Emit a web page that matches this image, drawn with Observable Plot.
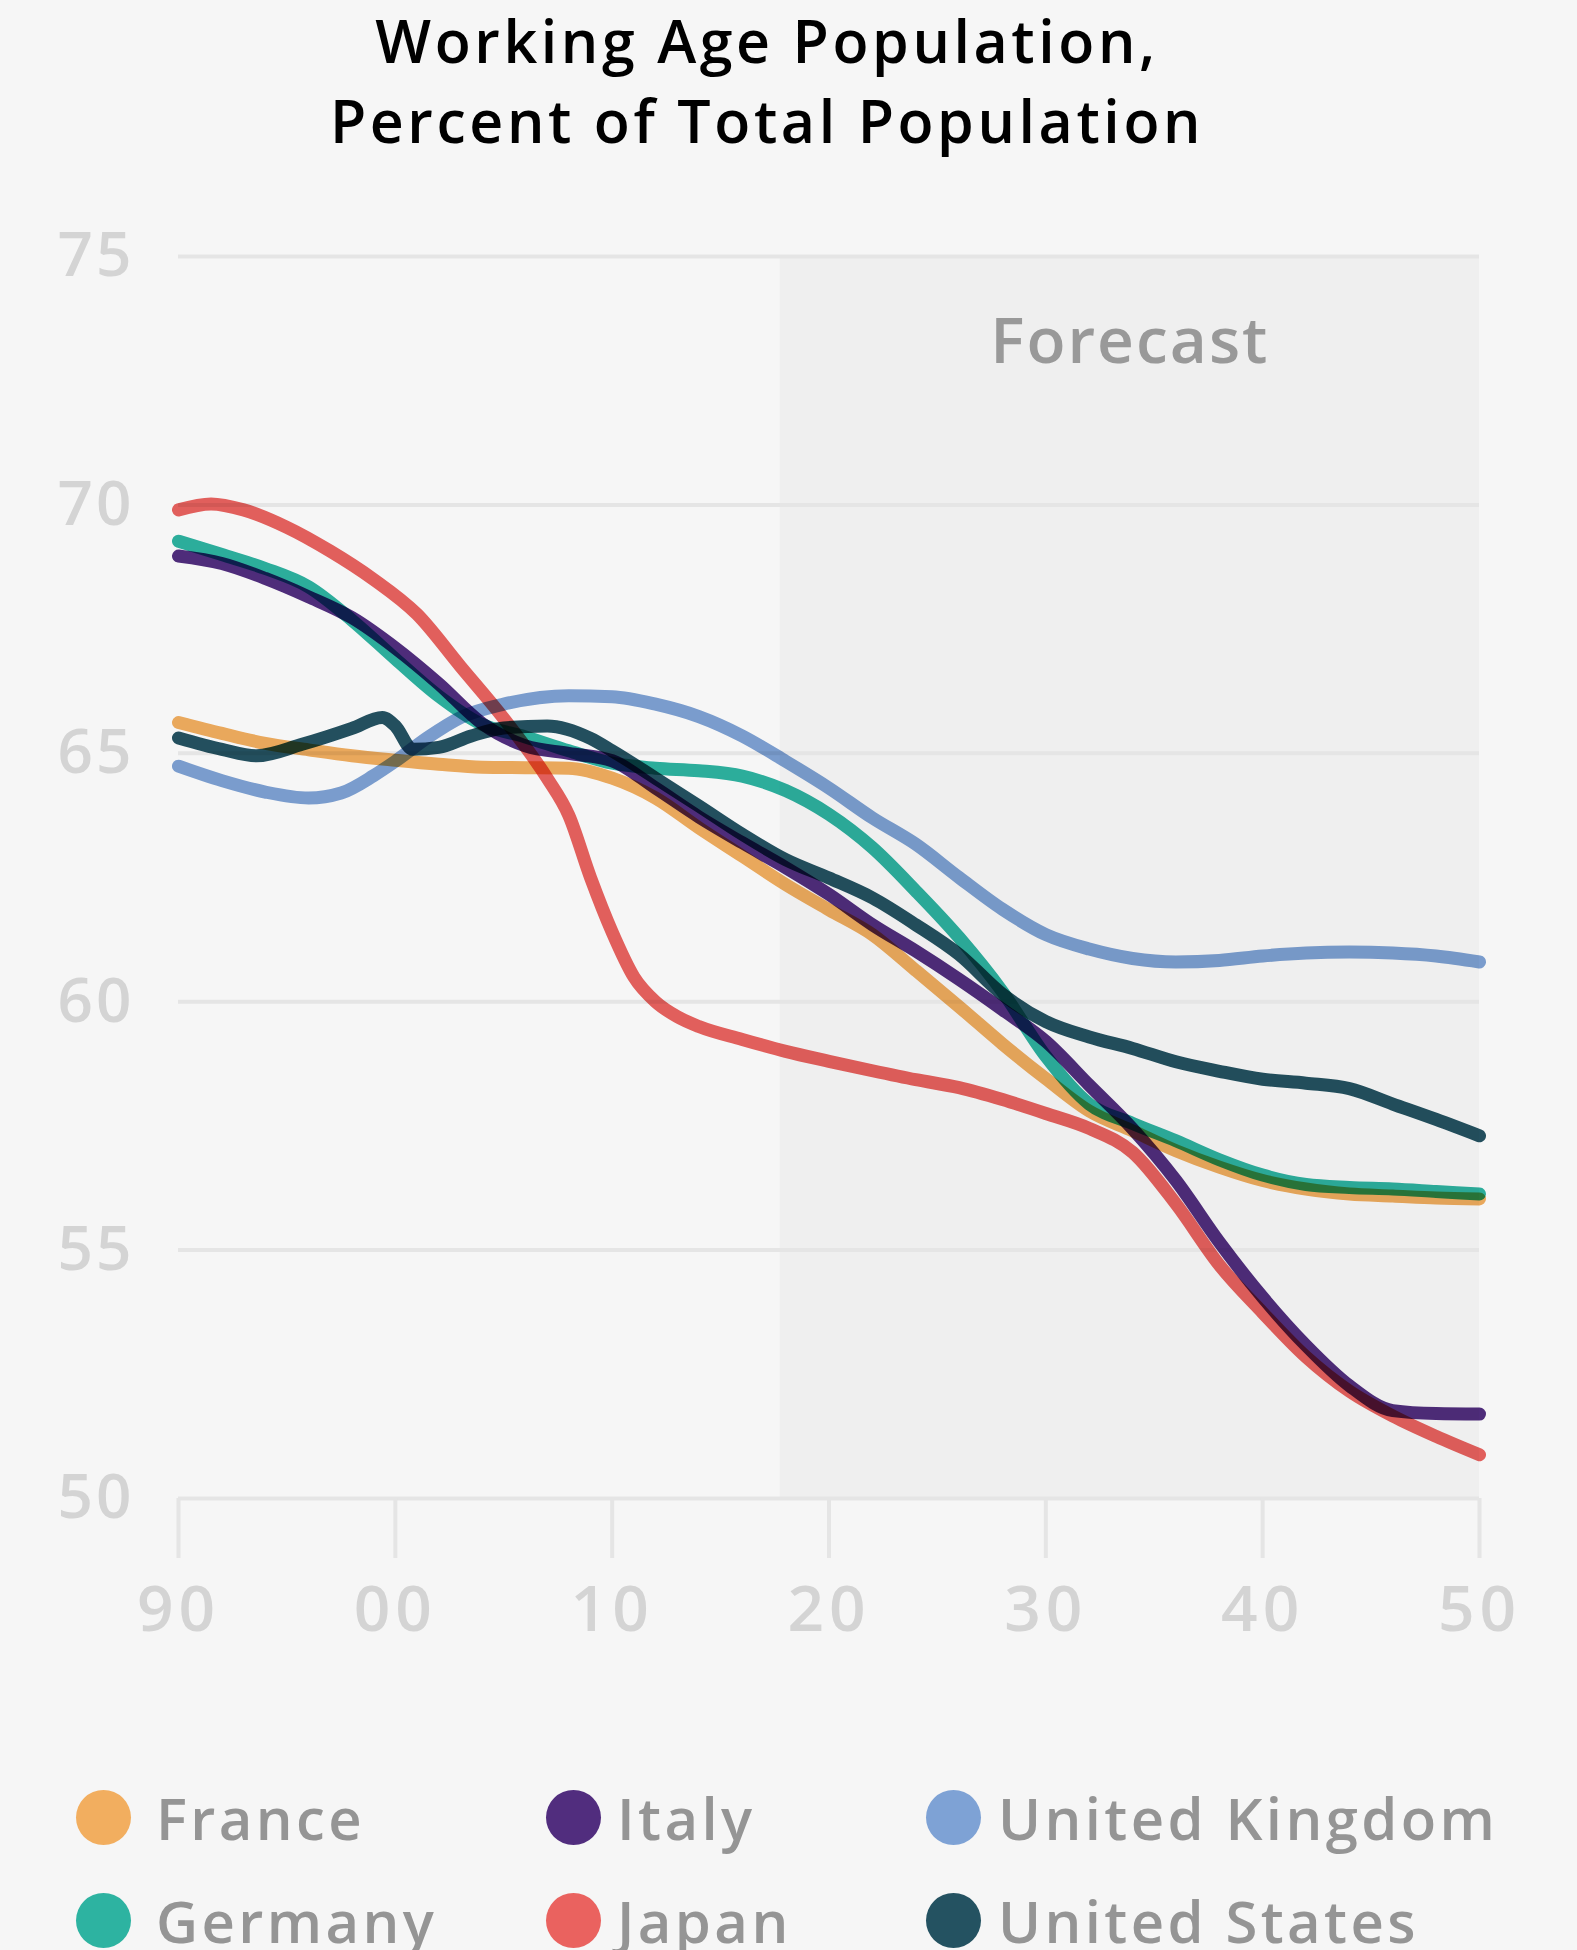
<!DOCTYPE html>
<html>
<head>
<meta charset="utf-8">
<script src="https://cdn.jsdelivr.net/npm/d3@7"></script>
<script src="https://cdn.jsdelivr.net/npm/@observablehq/plot@0.6"></script>
<style>
  html, body { margin: 0; padding: 0; background: #f6f6f6; }
  body { width: 1577px; height: 1950px; position: relative; overflow: hidden; font-family: "Open Sans", sans-serif; }
  #title { position: absolute; left: 0; top: 0; width: 1534px; text-align: center; font-size: 59px; line-height: 80px; font-weight: 600; color: #000; letter-spacing: 3.6px; }
  #chart { position: absolute; left: 0; top: 160px; }
  .lg-dot { position: absolute; width: 55px; height: 55px; border-radius: 50%; }
  .lg-text { position: absolute; font-size: 58px; line-height: 58px; color: #959595; font-weight: 600; letter-spacing: 3.4px; white-space: nowrap; }
  #chart g[aria-label="x-axis tick label"] text { letter-spacing: 5px; }
  #chart g[aria-label="y-axis tick label"] text { letter-spacing: 3px; }
  #chart g[aria-label="text"] text { letter-spacing: 2px; }
</style>
</head>
<body>
<div id="title">Working Age Population,<br>Percent of Total Population</div>
<div id="chart"></div>
<div id="legend"></div>
<script>
const countries = ["France", "Germany", "Italy", "Japan", "United Kingdom", "United States"];
const colors = ["#f2ae5f", "#2db3a1", "#512d7e", "#ea625f", "#7ea2d5", "#245261"];

const gridYears = [1990,1992,1994,1996,1998,2000,2002,2004,2006,2008,2010,2012,2014,2016,2018,2020,2022,2024,2026,2028,2030,2032,2034,2036,2038,2040,2042,2044,2046,2048,2050];
const franceValues = [65.62,65.4,65.2,65.07,64.95,64.86,64.78,64.72,64.71,64.7,64.5,64.1,63.5,62.93,62.36,61.85,61.35,60.63,59.9,59.15,58.45,57.8,57.4,57.0,56.67,56.4,56.23,56.13,56.09,56.05,56.03];
const germanyValues = [69.27,69.0,68.72,68.35,67.68,66.9,66.15,65.58,65.33,65.05,64.8,64.7,64.65,64.54,64.25,63.77,63.1,62.23,61.29,60.2,58.9,57.94,57.55,57.2,56.82,56.51,56.32,56.26,56.23,56.18,56.13];
const italyValues = [68.97,68.82,68.52,68.15,67.73,67.12,66.4,65.6,65.15,65.0,64.85,64.3,63.72,63.2,62.7,62.16,61.55,61.02,60.45,59.84,59.2,58.32,57.44,56.4,55.16,54.05,53.08,52.27,51.77,51.71,51.7];

const japanYears = [1990,1991.5,1993,1995,1997,1999,2001,2003,2005,2007,2008,2009,2010,2011,2012,2013,2014,2016,2018,2020,2022,2024,2026,2028,2030,2032,2034,2036,2038,2040,2042,2044,2046,2048,2050];
const japanValues = [69.9,70.02,69.9,69.55,69.07,68.5,67.8,66.75,65.7,64.5,63.75,62.5,61.4,60.5,60.0,59.7,59.5,59.24,59.0,58.8,58.61,58.43,58.27,58.03,57.75,57.45,56.97,55.93,54.7,53.74,52.85,52.16,51.66,51.25,50.88];

const ukYears = [1990,1992,1994,1996,1997.5,1999,2000,2001.5,2003,2005,2008,2010,2012,2014,2016,2018,2020,2022,2024,2026,2028,2030,2032,2034,2036,2038,2040,2042,2044,2046,2048,2050];
const ukValues = [64.74,64.45,64.22,64.1,64.2,64.55,64.84,65.32,65.72,65.99,66.16,66.14,65.99,65.74,65.35,64.84,64.3,63.7,63.17,62.5,61.86,61.35,61.06,60.87,60.8,60.83,60.92,60.98,61.0,60.98,60.92,60.8];

const usYears = [1990,1992,1993.6,1995.7,1998,1999.4,2000,2000.8,2002,2003.5,2005,2007,2009,2010,2012,2014,2016,2018,2020,2022,2024,2026,2028,2030,2032,2034,2036,2038,2040,2042,2044,2046,2048,2050];
const usValues = [65.31,65.08,64.95,65.18,65.5,65.72,65.55,65.08,65.12,65.35,65.51,65.55,65.3,65.05,64.5,63.94,63.37,62.86,62.49,62.09,61.55,60.95,60.15,59.6,59.29,59.06,58.79,58.6,58.44,58.36,58.25,57.94,57.63,57.3];

const xTicks = [1990, 2000, 2010, 2020, 2030, 2040, 2050];
const xTickLabels = ["90", "00", "10", "20", "30", "40", "50"];
const yTicks = [50, 55, 60, 65, 70, 75];
const forecast = [{label: "Forecast", start: 2017.75, end: 2050}];

const seriesList = [
  ["France", gridYears, franceValues],
  ["Germany", gridYears, germanyValues],
  ["Italy", gridYears, italyValues],
  ["Japan", japanYears, japanValues],
  ["United Kingdom", ukYears, ukValues],
  ["United States", usYears, usValues]
];
const rows = seriesList.flatMap(([country, ys, vs]) => ys.map((year, i) => ({country, year, value: vs[i]})));

const chart = Plot.plot({
  width: 1577,
  height: 1488,
  marginLeft: 178,
  marginRight: 98,
  marginTop: 96,
  marginBottom: 150,
  style: {background: "transparent", fontFamily: "'Open Sans', sans-serif", overflow: "visible"},
  x: {domain: [1990, 2050]},
  y: {domain: [50, 75]},
  color: {domain: countries, range: colors},
  marks: [
    Plot.rect(forecast, {x1: "start", x2: "end", y1: 50, y2: 75, fill: "#efefef"}),
    Plot.ruleY(yTicks, {stroke: "#e5e5e5", strokeWidth: 4}),
    Plot.axisY({ticks: yTicks, tickSize: 0, tickPadding: 0, textAnchor: "start", dx: -121, fontSize: 62, fontWeight: 600, fill: "#d4d4d4", label: null}),
    Plot.axisX({ticks: xTicks, tickFormat: d => xTickLabels[xTicks.indexOf(d)], tickSize: 60, tickPadding: 27, stroke: "#e5e5e5", strokeWidth: 4, fontSize: 64, fontWeight: 600, fill: "#d4d4d4", label: null}),
    Plot.text(forecast, {x: d => (d.start + d.end) / 2, y: 75, text: "label", lineAnchor: "bottom", dy: 106, fontSize: 64, fontWeight: 600, fill: "#999999"}),
    Plot.line(rows, {x: "year", y: "value", z: "country", stroke: "country", strokeWidth: 13, curve: "monotone-x", mixBlendMode: "multiply", strokeLinecap: "round", strokeLinejoin: "round"})
  ]
});
document.getElementById("chart").appendChild(chart);

// legend: column-major, two rows
const legendRows = [1817.5, 1920];
const legendDotX = [103, 573, 953];
const legendTextX = [156, 617, 998];
const legend = document.getElementById("legend");
countries.forEach((c, i) => {
  const col = Math.floor(i / 2), row = i % 2;
  const cy = legendRows[row];
  const dot = document.createElement("div");
  dot.className = "lg-dot";
  dot.style.background = colors[i];
  dot.style.left = (legendDotX[col] - 27.5) + "px";
  dot.style.top = (cy - 27.5) + "px";
  legend.appendChild(dot);
  const t = document.createElement("div");
  t.className = "lg-text";
  t.textContent = c;
  t.style.left = legendTextX[col] + "px";
  t.style.top = (cy + 23 - 51.5) + "px";
  legend.appendChild(t);
});
</script>
</body>
</html>
